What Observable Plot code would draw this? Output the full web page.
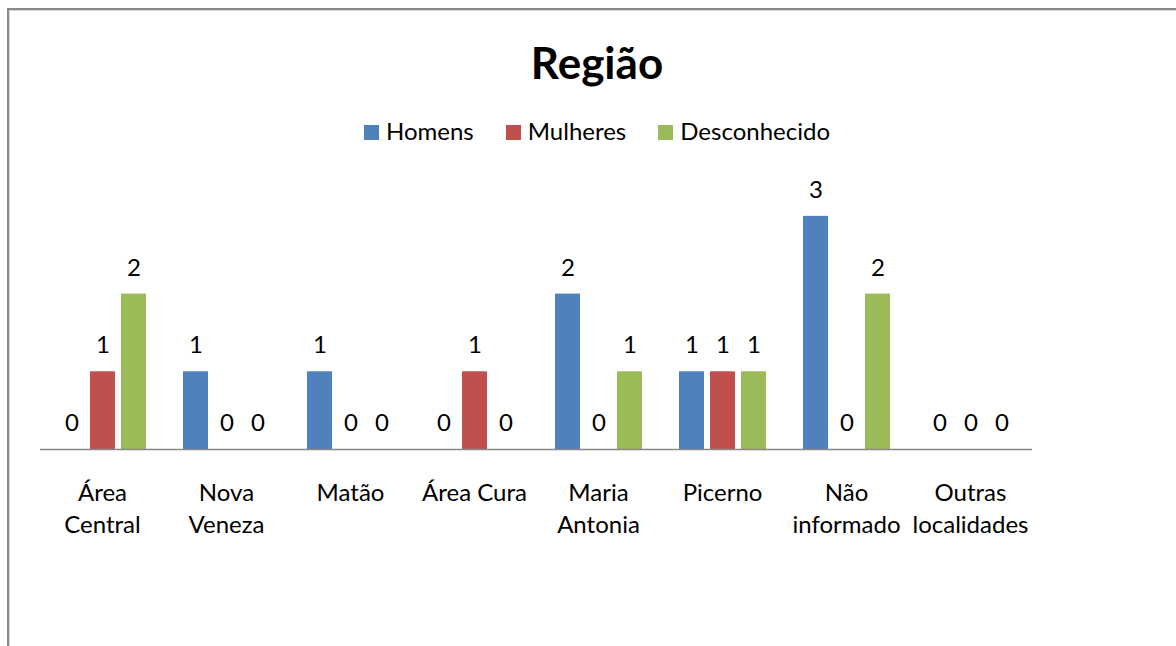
<!DOCTYPE html>
<html><head><meta charset="utf-8">
<script src="https://cdn.jsdelivr.net/npm/d3@7"></script>
<script src="https://cdn.jsdelivr.net/npm/@observablehq/plot@0.6"></script>
<style>
html,body{margin:0;padding:0;background:#fff;width:1176px;height:646px;overflow:hidden;font-family:Lato,"Open Sans",sans-serif;}
#frame{position:absolute;left:7px;top:8px;width:1200px;height:700px;border-left:2px solid #8a8a8a;border-top:2px solid #8a8a8a;box-shadow:inset 1px 1px 0 #d8d8d8;}
#title{position:absolute;left:0;width:1194px;top:36px;text-align:center;font-size:44px;font-weight:bold;color:#000;line-height:52px;}
#legend{position:absolute;left:0;width:1194px;top:116px;text-align:center;font-size:24px;color:#000;line-height:30px;white-space:nowrap;}
#legend span.item{display:inline-block;margin:0 16px;}
#legend span.sw{display:inline-block;width:15px;height:15px;margin-right:7px;vertical-align:0px;}
#chart{position:absolute;left:0;top:160px;}
</style></head>
<body>
<div id="frame"></div>
<div id="title">Região</div>
<div id="legend"></div>
<div id="chart"></div>
<script>
const categories = ["Área Central","Nova Veneza","Matão","Área Cura","Maria Antonia","Picerno","Não informado","Outras localidades"];
const tickLabels = ["Área\nCentral","Nova\nVeneza","Matão","Área Cura","Maria\nAntonia","Picerno","Não\ninformado","Outras\nlocalidades"];
const seriesNames = ["Homens","Mulheres","Desconhecido"];
const seriesColors = ["#4F81BD","#C0504D","#9BBB59"];
const homens = [0,1,1,0,2,1,3,0];
const mulheres = [1,0,0,1,0,1,0,0];
const desconhecido = [2,0,0,0,1,1,2,0];

const seriesValues = [homens, mulheres, desconhecido];
const data = [];
categories.forEach((c,i)=>{
  seriesNames.forEach((s,j)=>{ data.push({category:c, series:s, value:seriesValues[j][i]}); });
});

const legend = document.getElementById("legend");
seriesNames.forEach((s,j)=>{
  const item = document.createElement("span"); item.className="item";
  const sw = document.createElement("span"); sw.className="sw"; sw.style.background=seriesColors[j];
  item.appendChild(sw); item.appendChild(document.createTextNode(s));
  legend.appendChild(item);
});

const tickMap = new Map(categories.map((c,i)=>[c,tickLabels[i]]));

const chart = Plot.plot({
  width: 1176,
  height: 486,
  marginLeft: 38,
  marginRight: 143,
  marginTop: 17,
  marginBottom: 197,
  style: {fontFamily: "Lato, 'Open Sans', sans-serif", background: "transparent", overflow: "visible"},
  fx: {domain: categories, padding: 0, label: null},
  x: {domain: seriesNames, paddingInner: 0.2, paddingOuter: 0.6, axis: null},
  y: {domain: [0, 3.5], axis: null},
  color: {domain: seriesNames, range: seriesColors},
  marks: [
    Plot.barY(data, {fx: "category", x: "series", y: "value", fill: "series"}),
    Plot.ruleY([0], {stroke: "#898989", strokeWidth: 1.5}),
    Plot.text(data, {fx: "category", x: "series", y: "value", text: d => String(d.value), dy: -26, fontSize: 24, fill: "#000", lineAnchor: "middle"}),
    Plot.axisFx({anchor: "bottom", tickSize: 0, tickPadding: 28, fontSize: 24, lineHeight: 1.35, tickFormat: d => tickMap.get(d), label: null, fill: "#000"})
  ]
});
document.getElementById("chart").appendChild(chart);
</script>
</body></html>
